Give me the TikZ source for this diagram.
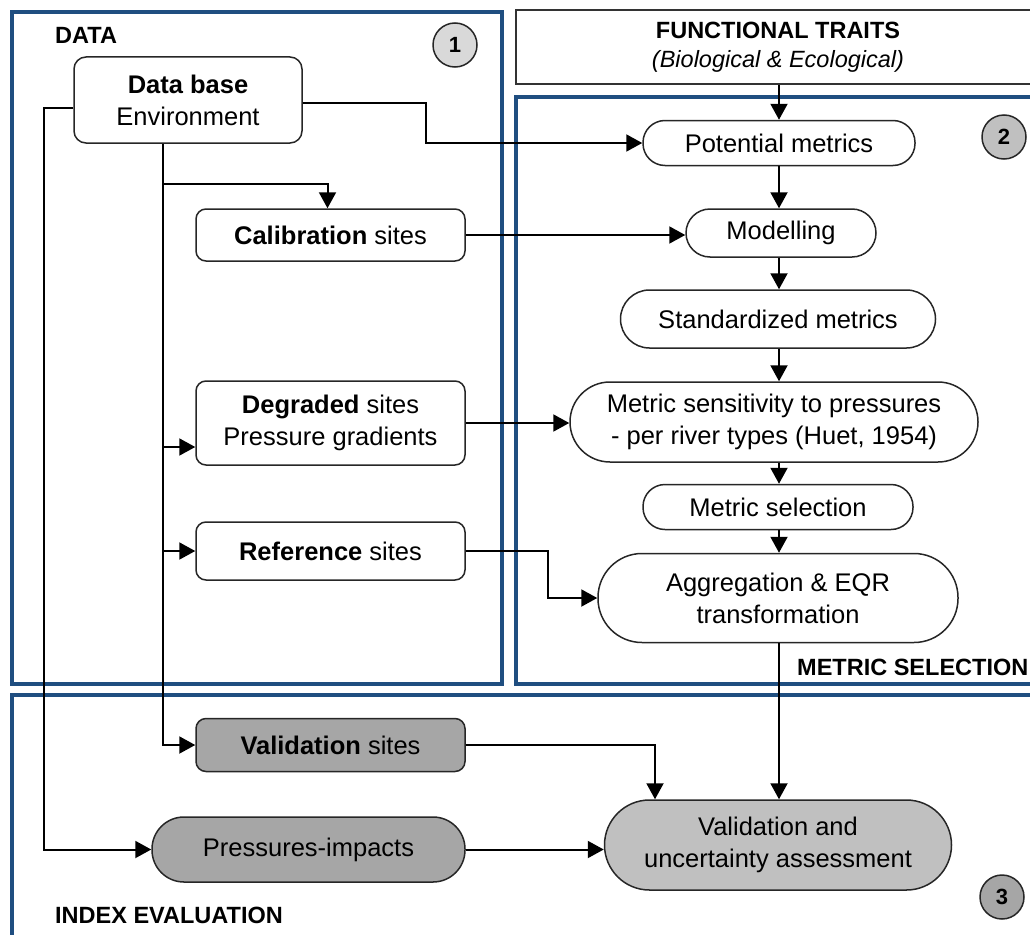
\documentclass[tikz,border=0pt]{standalone}
\usepackage{fontspec}
\setmainfont{Liberation Sans}
\usetikzlibrary{arrows.meta,calc}
\definecolor{frameblue}{RGB}{31,78,128}
\definecolor{gA}{RGB}{166,166,166}
\definecolor{gB}{RGB}{192,192,192}
\definecolor{gC}{RGB}{217,217,217}
\tikzset{
  frame/.style={draw=frameblue,line width=4.5pt},
  boxbase/.style={draw=black!85,line width=1.5pt,align=center,inner sep=0pt,
    font=\fontsize{25.5}{32}\selectfont},
  sitebox/.style={boxbase,rounded corners=10pt,minimum width=269pt},
  pill/.style={boxbase,rounded corners=#1},
  heading/.style={font=\fontsize{23.5}{28}\selectfont\bfseries,anchor=west,inner sep=0pt},
  numcirc/.style={circle,draw=black!85,line width=1.5pt,minimum size=44pt,inner sep=0pt,
    font=\fontsize{22}{26}\selectfont\bfseries},
  conn/.style={line width=2pt,draw=black},
  arr/.style={conn,-{Triangle[length=16pt,width=17pt]}},
}
\begin{document}
\begin{tikzpicture}[x=1pt,y=-1pt]
\useasboundingbox (0,0) rectangle (1030,934);
\clip (0,0) rectangle (1030,934);
% frames
\draw[frame] (12,12) rectangle (502,684);
\draw[frame] (516,97) rectangle (1045,684);
\draw[frame] (12,695) rectangle (1045,938);
% functional traits
\node[draw=black!80,line width=1.5pt,minimum width=524pt,minimum height=74pt,inner sep=0pt,align=center,
  font=\fontsize{23.5}{29}\selectfont] (ft) at (778,47)
  {\textbf{FUNCTIONAL TRAITS}\\[0pt]\textit{(Biological \& Ecological)}};
% headings
\node[heading] (hdata) at (55,35) {DATA};
\node[heading] (hmet) at (797,667) {METRIC SELECTION};
\node[heading] (hidx) at (55,915) {INDEX EVALUATION};
% circles
\node[numcirc,fill=gC] (c1) at (455,45) {1};
\node[numcirc,fill=gB] (c2) at (1004,137) {2};
\node[numcirc,fill=gA] (c3) at (1002,897) {3};
% left column
\node[boxbase,rounded corners=12pt,minimum width=228pt,minimum height=86pt] (db) at (188,100)
  {\textbf{Data base}\\Environment};
\node[sitebox,minimum height=52pt] (cal) at (330.5,235) {\textbf{Calibration} sites};
\node[sitebox,minimum height=84pt] (deg) at (330.5,423) {\textbf{Degraded} sites\\Pressure gradients};
\node[sitebox,minimum height=58pt] (ref) at (330.5,551) {\textbf{Reference} sites};
\node[sitebox,minimum height=53pt,fill=gA] (vals) at (330.5,745) {\textbf{Validation} sites};
\node[pill=32pt,minimum width=313pt,minimum height=65pt,fill=gA] (prs) at (308.5,849.5) {Pressures-impacts};
% right column
\node[pill=22pt,minimum width=272pt,minimum height=45pt] (pot) at (779,143) {Potential metrics};
\node[pill=24pt,minimum width=190pt,minimum height=48pt] (mod) at (781,233) {Modelling};
\node[pill=29pt,minimum width=315pt,minimum height=58pt] (std) at (778,319) {Standardized metrics};
\node[pill=40pt,minimum width=408pt,minimum height=80pt] (sens) at (774,422)
  {Metric sensitivity to pressures\\- per river types (Huet, 1954)};
\node[pill=22pt,minimum width=270pt,minimum height=45pt] (sel) at (778,507) {Metric selection};
\node[pill=44pt,minimum width=360pt,minimum height=89pt] (agg) at (778,598)
  {Aggregation \& EQR\\transformation};
\node[pill=45pt,minimum width=347pt,minimum height=90pt,fill=gB] (vu) at (778,845)
  {Validation and\\uncertainty assessment};
% connectors right column
\draw[arr] (ft.south -| pot.north) -- (pot.north);
\draw[arr] (pot.south) -- (pot.south |- mod.north);
\draw[arr] (pot.south |- mod.south) -- (pot.south |- std.north);
\draw[arr] (pot.south |- std.south) -- (pot.south |- sens.north);
\draw[arr] (pot.south |- sens.south) -- (pot.south |- sel.north);
\draw[arr] (pot.south |- sel.south) -- (pot.south |- agg.north);
\draw[arr] (pot.south |- agg.south) -- (pot.south |- vu.north);
% data base outputs
\draw[arr] ([yshift=-3pt]db.east) -- ++(123,0) |- (pot.west);
\draw[arr] ([yshift=-8pt]db.west) -- ++(-29,0) |- (prs.west);
\coordinate (tt) at ([xshift=-25pt]db.south);
\coordinate (b1) at ([yshift=-40pt]tt);
\draw[conn] (tt) -- (b1);
\draw[arr] (b1) -| ([xshift=-3pt]cal.north);
\coordinate (dg) at ([yshift=-24pt]deg.west);
\draw[arr] (dg -| tt) -- (dg);
\draw[arr] (ref.west -| tt) -- (ref.west);
\draw[arr] (tt) |- (vals.west);
% site outputs
\draw[arr] (cal.east) -- (cal.east -| mod.west);
\draw[arr] (deg.east) -- (deg.east -| sens.west);
\draw[arr] (ref.east) -- ++(82,0) |- (agg.west);
\draw[arr] (vals.east) -| ([xshift=-123pt]vu.north);
\draw[arr] (prs.east) -- (prs.east -| vu.west);
\end{tikzpicture}
\end{document}
